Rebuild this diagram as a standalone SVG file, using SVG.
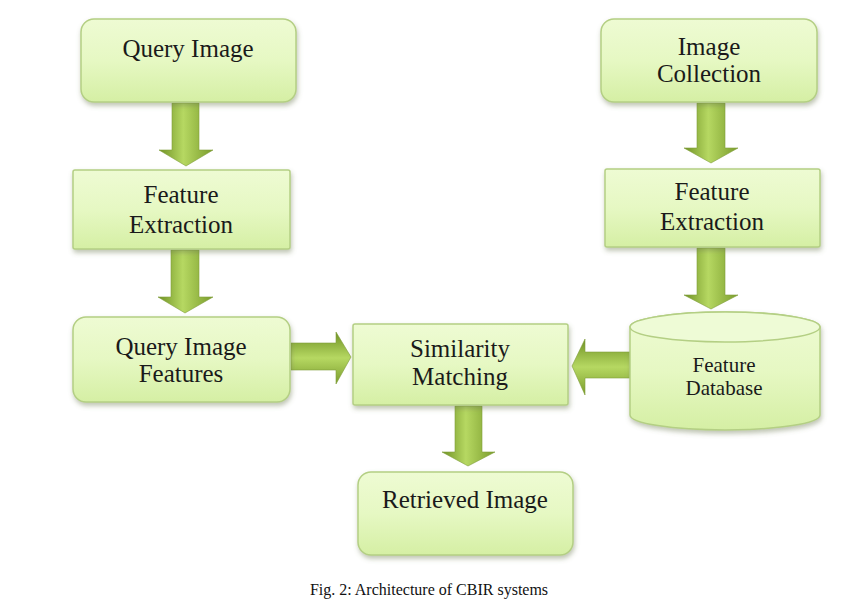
<svg xmlns="http://www.w3.org/2000/svg" width="860" height="601" viewBox="0 0 860 601">
<defs>
<linearGradient id="boxFill" x1="0" y1="0" x2="0" y2="1">
<stop offset="0" stop-color="#eefbd3"/>
<stop offset="0.5" stop-color="#e6f8c3"/>
<stop offset="1" stop-color="#d5efa4"/>
</linearGradient>
<linearGradient id="arrV" x1="0" y1="0" x2="1" y2="0">
<stop offset="0" stop-color="#6f9124"/>
<stop offset="0.45" stop-color="#b6d862"/>
<stop offset="1" stop-color="#7a9c2c"/>
</linearGradient>
<linearGradient id="arrH" x1="0" y1="0" x2="0" y2="1">
<stop offset="0" stop-color="#6f9124"/>
<stop offset="0.5" stop-color="#b6d862"/>
<stop offset="1" stop-color="#7a9c2c"/>
</linearGradient>
<filter id="sh" x="-10%" y="-10%" width="125%" height="130%">
<feDropShadow dx="1" dy="3" stdDeviation="2.5" flood-color="#6d7a55" flood-opacity="0.45"/>
</filter>
</defs>
<style>
.box{fill:url(#boxFill);stroke:#b4cf84;stroke-width:1.5;filter:url(#sh)}
.t{font-family:"Liberation Serif","Times New Roman",serif;font-size:25px;fill:#1a1a1a;text-anchor:middle}
.ts{font-family:"Liberation Serif","Times New Roman",serif;font-size:21px;fill:#1a1a1a;text-anchor:middle}
.cap{font-family:"Liberation Serif","Times New Roman",serif;font-size:16px;fill:#111;text-anchor:middle}
.av{fill:url(#arrV);stroke:#7f9e3a;stroke-width:0.6}
.ah{fill:url(#arrH);stroke:#7f9e3a;stroke-width:0.6}
</style>

<g id="connectors">
<path class="av" d="M172,103 L199,103 L199,150 L213,150 L186,166 L159,150 L172,150 Z"/>
<path class="av" d="M171,250 L199,250 L199,297 L213,297 L185,313 L158,297 L171,297 Z"/>
<path class="av" d="M697,103 L725,103 L725,148 L738,148 L711,163 L684,148 L697,148 Z"/>
<path class="av" d="M697,248 L725,248 L725,295 L738,295 L711,309 L684,295 L697,295 Z"/>
<path class="av" d="M455,406 L482,406 L482,452 L495,452 L468,466 L442,452 L455,452 Z"/>
<path class="ah" d="M291,343 L336,343 L336,332 L351,357 L336,384 L336,370 L291,370 Z"/>
<path class="ah" d="M630,352 L585,352 L585,339 L572,366 L585,395 L585,378 L630,378 Z"/>
</g>

<g id="query-image">
<rect class="box" x="81" y="19" width="215" height="83" rx="13"/>
<text class="t" x="188" y="57">Query Image</text>
</g>

<g id="feature-extraction-left">
<rect class="box" x="73" y="170" width="217" height="79" rx="2"/>
<text class="t" x="181" y="203">Feature</text>
<text class="t" x="181" y="233">Extraction</text>
</g>

<g id="query-image-features">
<rect class="box" x="73" y="317" width="217" height="85" rx="13"/>
<text class="t" x="181" y="355">Query Image</text>
<text class="t" x="181" y="382">Features</text>
</g>

<g id="similarity-matching">
<rect class="box" x="353" y="324" width="215" height="81" rx="2"/>
<text class="t" x="460" y="357">Similarity</text>
<text class="t" x="460" y="385">Matching</text>
</g>

<g id="retrieved-image">
<rect class="box" x="358" y="472" width="215" height="83" rx="13"/>
<text class="t" x="465" y="508">Retrieved Image</text>
</g>

<g id="image-collection">
<rect class="box" x="601" y="19" width="216" height="83" rx="13"/>
<text class="t" x="709" y="55">Image</text>
<text class="t" x="709" y="82">Collection</text>
</g>

<g id="feature-extraction-right">
<rect class="box" x="605" y="169" width="215" height="78" rx="2"/>
<text class="t" x="712" y="200">Feature</text>
<text class="t" x="712" y="230">Extraction</text>
</g>

<g id="feature-database">
<path class="box" d="M630,327 A95,15 0 0 1 820,327 L820,415 A95,15 0 0 1 630,415 Z"/>
<ellipse cx="725" cy="327" rx="95" ry="15" fill="#eefbd6" stroke="#b4cf84" stroke-width="1.5"/>
<text class="ts" x="724" y="372">Feature</text>
<text class="ts" x="724" y="395">Database</text>
</g>

<text class="cap" x="429" y="595">Fig. 2: Architecture of CBIR systems</text>
</svg>
